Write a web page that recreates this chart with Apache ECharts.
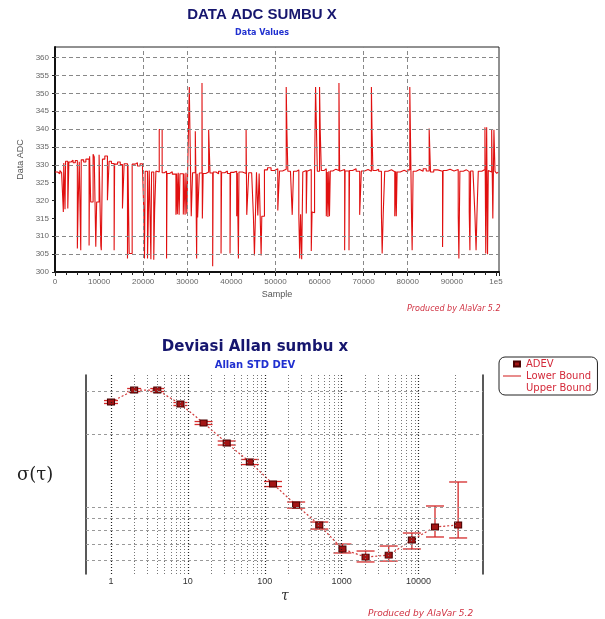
<!DOCTYPE html>
<html>
<head>
<meta charset="utf-8">
<title>Data ADC sumbu X</title>
<script src="https://cdn.jsdelivr.net/npm/echarts@6.0.0/dist/echarts.min.js"></script>
<style>
  html, body { margin: 0; padding: 0; background: #fff; }
  #chart { width: 605px; height: 619px; }
</style>
</head>
<body>
<div id="chart"></div>
<script>
// data ADC (sample index, raw value)
var adcSample = [
  0, 600, 1100, 1500, 1890, 1990, 2270, 2400, 2900, 3150,
  3640, 4100, 4600, 5070, 5250, 5500, 5840, 5950, 6500, 7000,
  7730, 7850, 8100, 8640, 8900, 9250, 9450, 10000, 10390, 10500,
  10760, 11300, 11890, 12270, 12800, 13410, 13520, 14200, 14800, 15300,
  15680, 16440, 16550, 16820, 17500, 18200, 18700, 19300, 19850, 20150,
  20300, 20450, 20980, 21370, 21750, 21900, 22400, 22600, 22890, 23300,
  23640, 24300, 24800, 25300, 25420, 26000, 26600, 27430, 27600, 27750,
  27950, 28150, 28340, 29100, 29250, 29500, 29700, 29900, 30080, 30460,
  30600, 30900, 31200, 31820, 31950, 32120, 32250, 32350, 32730, 33340,
  33420, 33600, 34200, 34850, 35160, 35760, 35880, 36500, 37100, 37660,
  37780, 38500, 39100, 39700, 39820, 40500, 41210, 41350, 41600, 41720,
  42500, 43340, 43490, 43940, 44600, 45000, 45230, 45450, 45700, 46000,
  46300, 46750, 46900, 47500, 48200, 49000, 49800, 50530, 50920, 51600,
  52440, 52600, 52810, 53400, 53800, 54100, 54800, 55300, 55500, 55700,
  55950, 56200, 56600, 56990, 57150, 57600, 58120, 58300, 58600, 58870,
  59100, 59300, 59500, 60000, 60150, 60400, 61000, 61530, 61750, 61900,
  62100, 62250, 62440, 63000, 63700, 64400, 64550, 65000, 65690, 65800,
  66680, 66800, 67500, 68300, 69100, 69480, 70200, 71000, 71760, 71900,
  72100, 72800, 73400, 74030, 74200, 74450, 74780, 75500, 76300, 77060,
  77300, 77400, 77590, 78300, 79200, 80000, 80470, 80600, 80850, 81000,
  81220, 81900, 82700, 83500, 84200, 84860, 85160, 85900, 86800, 87900,
  88020, 88800, 89600, 90500, 91450, 91600, 91830, 92600, 93300, 93950,
  94100, 94260, 94800, 95240, 95500, 95700, 96000, 96800, 97510, 97700,
  97900, 98100, 98270, 98700, 99040, 99300, 99550, 99790, 100200, 100500
];
var adcValue = [
  328.0, 327.5, 328.4, 327.8, 316.8, 330.5, 317.6, 331.0, 317.8, 330.8,
  331.3, 330.6, 331.2, 306.6, 318.7, 330.9, 306.1, 331.4, 330.8, 331.6,
  307.4, 332.4, 319.6, 333.0, 332.2, 307.1, 319.6, 332.8, 307.4, 306.1,
  331.6, 332.5, 320.1, 331.0, 330.4, 306.1, 330.2, 330.8, 330.1, 317.8,
  330.3, 303.8, 330.0, 305.2, 330.2, 330.6, 329.7, 330.3, 328.6, 316.8,
  303.8, 328.2, 303.8, 328.4, 303.6, 328.0, 303.4, 317.5, 328.3, 328.0,
  339.9, 327.8, 328.2, 303.8, 327.6, 328.1, 327.4, 316.0, 327.6, 316.2,
  327.8, 316.0, 327.5, 316.1, 327.6, 316.0, 327.8, 316.3, 327.6, 351.8,
  339.8, 315.6, 327.8, 339.4, 327.6, 303.8, 327.5, 315.3, 327.7, 352.9,
  315.0, 327.6, 328.0, 339.8, 327.7, 301.6, 328.0, 327.5, 328.2, 305.2,
  327.8, 328.3, 327.6, 305.2, 327.9, 328.2, 315.6, 327.7, 303.8, 328.0,
  327.6, 340.0, 316.0, 327.8, 328.2, 315.6, 304.6, 315.4, 327.9, 315.8,
  327.6, 304.6, 315.6, 328.6, 329.2, 328.4, 328.9, 317.2, 328.3, 328.8,
  351.8, 339.2, 328.2, 328.6, 316.0, 328.2, 328.6, 316.0, 303.8, 316.2,
  303.6, 328.0, 328.4, 316.4, 328.2, 328.7, 305.9, 316.8, 316.6, 328.3,
  351.8, 339.8, 328.2, 351.8, 339.8, 328.4, 328.9, 315.6, 328.0, 315.4,
  328.2, 315.6, 328.3, 328.8, 328.4, 352.9, 328.2, 328.7, 306.1, 328.3,
  306.1, 328.4, 328.9, 328.2, 316.0, 328.3, 328.7, 328.2, 351.8, 339.8,
  328.4, 328.8, 328.2, 316.4, 305.2, 316.6, 328.2, 328.6, 328.1, 315.6,
  328.2, 315.6, 328.0, 328.5, 328.0, 328.6, 351.8, 339.8, 316.8, 306.1,
  328.2, 328.7, 328.2, 328.9, 328.3, 340.2, 328.0, 328.6, 328.2, 307.0,
  328.4, 328.8, 328.3, 328.7, 316.0, 303.8, 328.2, 328.6, 328.1, 316.8,
  306.1, 328.3, 328.7, 316.0, 306.1, 316.0, 328.2, 328.7, 340.5, 305.2,
  340.5, 305.0, 328.4, 328.0, 339.8, 315.0, 339.8, 328.2, 327.6, 328.0
];
// garis grid yang terlihat pada grafik atas
var adcGridY = [305, 310, 330, 335, 340, 345, 350, 355, 360];
var adcGridX = [20000, 30000, 50000, 70000, 80000];

// Allan deviation (tau dalam sampel)
var tauValues = [1, 2, 4, 8, 16, 32, 64, 128, 256, 512, 1024, 2048, 4096, 8192, 16384, 32768];
var adevValues = [2.716, 3.044, 3.044, 2.665, 2.224, 1.838, 1.534, 1.245, 1.019, 0.843, 0.671, 0.621, 0.633, 0.731, 0.827, 0.843];
var adevLower = [2.678, 3.001, 3.001, 2.627, 2.193, 1.804, 1.498, 1.215, 0.990, 0.811, 0.646, 0.593, 0.598, 0.671, 0.752, 0.745];
var adevUpper = [2.754, 3.088, 3.088, 2.703, 2.256, 1.874, 1.572, 1.275, 1.049, 0.867, 0.703, 0.658, 0.690, 0.781, 1.010, 1.269];
var allanGridX = [
  1, 2, 3, 4, 5, 6, 7, 8, 9,
  10, 20, 30, 40, 50, 60, 70, 80, 90,
  100, 200, 300, 400, 500, 600, 700, 800, 900,
  1000, 2000, 3000, 4000, 5000, 6000, 7000, 8000, 9000,
  10000, 30000
];
var allanGridY = [3, 2, 1, 0.9, 0.8, 0.7, 0.6];

var myChart = echarts.init(document.getElementById('chart'));

var adcData = adcSample.map(function (s, i) { return [s, adcValue[i]]; });
var lowerData = tauValues.map(function (t, i) { return [t, adevValues[i], adevLower[i]]; });
var upperData = tauValues.map(function (t, i) { return [t, adevValues[i], adevUpper[i]]; });

// error bar: garis tegak dari ADEV ke batas + tutup horizontal
function errorBar(params, api) {
  var p0 = api.coord([api.value(0), api.value(1)]);
  var p1 = api.coord([api.value(0), api.value(2)]);
  var half = params.dataIndex < 4 ? 7 : 9;
  var style = { stroke: '#d42a2a', lineWidth: 1.3, fill: null };
  return {
    type: 'group',
    children: [
      { type: 'line', shape: { x1: p0[0], y1: p0[1], x2: p1[0], y2: p1[1] }, style: style },
      { type: 'line', shape: { x1: p1[0] - half, y1: p1[1], x2: p1[0] + half, y2: p1[1] }, style: style }
    ]
  };
}

var labelFont = 'Liberation Sans';
var wideFont = 'DejaVu Sans';

myChart.setOption({
  animation: false,
  title: [
    {
      text: 'DATA ADC SUMBU X',
      subtext: 'Data Values',
      left: 257, top: 2, textAlign: 'center', itemGap: 7,
      textStyle: { fontSize: 15, fontWeight: 'bold', color: '#16166e', fontFamily: labelFont },
      subtextStyle: { fontSize: 8, fontWeight: 'bold', color: '#2030d0', fontFamily: wideFont }
    },
    {
      text: 'Deviasi Allan sumbu x',
      subtext: 'Allan STD DEV',
      left: 250, top: 335, textAlign: 'center', itemGap: 5,
      textStyle: { fontSize: 15, fontWeight: 'bold', color: '#16166e', fontFamily: wideFont },
      subtextStyle: { fontSize: 10, fontWeight: 'bold', color: '#2030d0', fontFamily: wideFont }
    }
  ],
  legend: {
    orient: 'vertical',
    left: 499, top: 357,
    padding: [2, 6, 2, 3],
    itemGap: 2, itemWidth: 18, itemHeight: 8,
    borderColor: '#222', borderWidth: 1, borderRadius: 6,
    textStyle: { fontSize: 10, color: '#d42a3a', fontFamily: wideFont },
    data: [
      { name: 'ADEV', icon: 'path://M0,0L0.01,0M18,8L18.01,8M11,1.5h6v5h-6z' },
      { name: 'Lower Bound', icon: 'path://M0,0h20v1.2h-20z' },
      { name: 'Upper Bound', icon: 'rect', itemStyle: { opacity: 0 } }
    ]
  },
  grid: [
    { left: 55, right: 106, top: 47, bottom: 347, show: true, borderColor: '#222', borderWidth: 1, containLabel: false, outerBoundsMode: 'none' },
    { left: 86, right: 122, top: 375, bottom: 45, containLabel: false, outerBoundsMode: 'none' }
  ],
  xAxis: [
    {
      type: 'value', gridIndex: 0, min: 0, max: 100700, interval: 10000,
      name: 'Sample', nameLocation: 'middle', nameGap: 18,
      nameTextStyle: { fontSize: 9, color: '#555', fontFamily: labelFont },
      axisLine: { lineStyle: { color: '#111', width: 2 } },
      axisTick: { length: 4, lineStyle: { color: '#222' } },
      minorTick: { show: true, splitNumber: 4, length: 3, lineStyle: { color: '#222' } },
      axisLabel: {
        fontSize: 8, color: '#666', margin: 6, fontFamily: labelFont, showMaxLabel: false,
        formatter: function (v) { return v === 100000 ? '1e5' : String(v); }
      },
      splitLine: { show: false }
    },
    {
      type: 'log', gridIndex: 1, min: 0.473, max: 69000, logBase: 10,
      axisLine: { show: false },
      axisTick: { show: false },
      axisLabel: {
        fontSize: 9, color: '#333', margin: 3, fontFamily: labelFont,
        showMinLabel: false, showMaxLabel: false,
        formatter: function (v) { return String(Math.round(v)); }
      },
      splitLine: { show: false }
    }
  ],
  yAxis: [
    {
      type: 'value', gridIndex: 0, min: 300, max: 363, interval: 5,
      name: 'Data ADC', nameLocation: 'middle', nameGap: 28, nameRotate: 90,
      nameTextStyle: { fontSize: 9, color: '#555', fontFamily: labelFont },
      axisLine: { show: true, lineStyle: { color: '#111', width: 2 } },
      axisTick: { show: true, length: 3, lineStyle: { color: '#222' } },
      axisLabel: { fontSize: 8, color: '#666', margin: 6, fontFamily: labelFont, showMaxLabel: false },
      splitLine: { show: false }
    },
    {
      type: 'log', gridIndex: 1, min: 0.5288, max: 3.512, logBase: 10,
      axisLine: { show: true, lineStyle: { color: '#222', width: 1.5 } },
      axisTick: { show: false }, axisLabel: { show: false }, splitLine: { show: false }
    },
    {
      type: 'log', gridIndex: 1, position: 'right', min: 0.5288, max: 3.512, logBase: 10,
      axisLine: { show: true, lineStyle: { color: '#222', width: 1.5 } },
      axisTick: { show: false }, axisLabel: { show: false }, splitLine: { show: false }
    }
  ],
  graphic: [
    { type: 'text', left: 407, top: 305, style: { text: 'Produced by AlaVar 5.2', fontSize: 8, fontStyle: 'italic', fill: '#d03040', fontFamily: wideFont } },
    { type: 'text', left: 368, top: 609, style: { text: 'Produced by AlaVar 5.2', fontSize: 9, fontStyle: 'italic', fill: '#d03040', fontFamily: wideFont } },
    { type: 'text', left: 17, top: 466, style: { text: 'σ(τ)', fontSize: 18, fill: '#222', fontFamily: 'DejaVu Serif' } },
    { type: 'text', left: 281, top: 589, style: { text: 'τ', fontSize: 14, fontStyle: 'italic', fill: '#333', fontFamily: 'DejaVu Serif' } }
  ],
  series: [
    {
      // grid grafik atas
      name: 'gridAtas', type: 'line', xAxisIndex: 0, yAxisIndex: 0, data: [], silent: true, z: 1,
      markLine: {
        silent: true, symbol: ['none', 'none'], label: { show: false }, animation: false,
        lineStyle: { type: [4, 3], color: '#888', width: 1 },
        data: adcGridY.map(function (v) { return { yAxis: v }; })
          .concat(adcGridX.map(function (v) { return { xAxis: v }; }))
      }
    },
    {
      name: 'ADC', type: 'line', xAxisIndex: 0, yAxisIndex: 0, data: adcData,
      step: 'end', showSymbol: false, z: 2,
      lineStyle: { color: '#e01010', width: 1.1 }
    },
    {
      // grid grafik Allan
      name: 'gridAllan', type: 'line', xAxisIndex: 1, yAxisIndex: 1, data: [], silent: true, z: 1,
      markLine: {
        silent: true, symbol: ['none', 'none'], label: { show: false }, animation: false,
        lineStyle: { type: [1, 2], color: '#777', width: 1 },
        data: allanGridX.map(function (v) {
          var major = Math.abs(Math.log10(v) - Math.round(Math.log10(v))) < 1e-9;
          return major ? { xAxis: v, lineStyle: { color: '#222', type: [1, 2], width: 1.2 } } : { xAxis: v };
        }).concat(allanGridY.map(function (v) {
          return { yAxis: v, lineStyle: { type: [3, 3], color: '#999', width: 1 } };
        }))
      }
    },
    {
      name: 'Lower Bound', type: 'custom', xAxisIndex: 1, yAxisIndex: 1, data: lowerData,
      encode: { x: 0, y: [1, 2] }, renderItem: errorBar, z: 2,
      itemStyle: { color: '#d42a2a' }
    },
    {
      name: 'Upper Bound', type: 'custom', xAxisIndex: 1, yAxisIndex: 1, data: upperData,
      encode: { x: 0, y: [1, 2] }, renderItem: errorBar, z: 2,
      itemStyle: { color: '#d42a2a' }
    },
    {
      name: 'ADEV', type: 'line', xAxisIndex: 1, yAxisIndex: 1,
      data: tauValues.map(function (t, i) { return [t, adevValues[i]]; }),
      symbol: 'rect', symbolSize: [7, 6], showSymbol: true, z: 3,
      itemStyle: { color: '#a31515', borderColor: '#4a0000', borderWidth: 1 },
      lineStyle: { color: '#d03a3a', type: [2, 2], width: 1.2 }
    }
  ]
});
</script>
</body>
</html>
